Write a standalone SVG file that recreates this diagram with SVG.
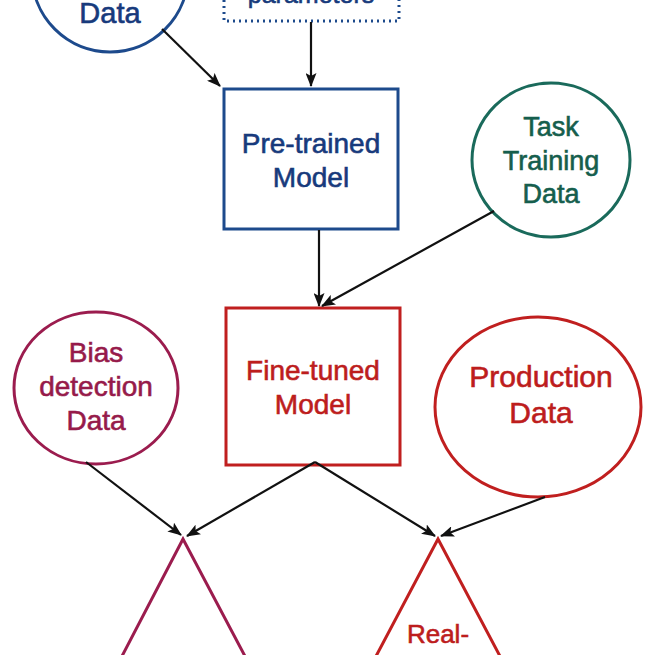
<svg xmlns="http://www.w3.org/2000/svg" width="655" height="655" viewBox="0 0 655 655">
<defs>
<marker id="ah" viewBox="0 0 14 11" refX="13" refY="5.5" markerWidth="14" markerHeight="11" markerUnits="userSpaceOnUse" orient="auto">
<path d="M0,0 L14,5.5 L0,11 L3,5.5 z" fill="#111"/>
</marker>
<style>
text{font-family:"Liberation Sans",Arial,sans-serif;text-anchor:middle;stroke-width:0.6}
.blue{stroke:#1d4a8c;fill:none;stroke-width:3}
.tblue{fill:#173a7c;stroke:#173a7c}
.teal{stroke:#1a6a5b;fill:none;stroke-width:3}
.tteal{fill:#155e4d;stroke:#155e4d}
.bias{stroke:#9b1c4e;fill:none;stroke-width:3}
.tbias{fill:#961a4a;stroke:#961a4a}
.red{stroke:#c01f1f;fill:none;stroke-width:3}
.tred{fill:#bd1d1d;stroke:#bd1d1d}
.conn line{stroke:#111;stroke-width:2.2;marker-end:url(#ah)}
</style>
</defs>
<rect width="655" height="655" fill="#fff"/>
<g id="pretrain-data">
<circle class="blue" cx="110" cy="-26" r="78"/>
<text class="tblue" x="110" y="23" font-size="29">Data</text>
</g>
<g id="parameters">
<rect x="224" y="-30" width="175" height="51" fill="none" stroke="#1d4a8c" stroke-width="3" stroke-dasharray="2 4"/>
<text class="tblue" x="311" y="3" font-size="25">parameters</text>
</g>
<g id="pretrained-model">
<rect class="blue" x="224" y="89" width="174" height="140"/>
<text class="tblue" x="311" y="153" font-size="28"><tspan x="311">Pre-trained</tspan><tspan x="311" dy="34">Model</tspan></text>
</g>
<g id="task-data">
<ellipse class="teal" cx="551" cy="160" rx="79" ry="77"/>
<text class="tteal" x="551" y="136" font-size="27"><tspan x="551">Task</tspan><tspan x="551" dy="34">Training</tspan><tspan x="551" dy="33">Data</tspan></text>
</g>
<g id="finetuned-model">
<rect class="red" x="226" y="308" width="174" height="157"/>
<text class="tred" x="313" y="380" font-size="28"><tspan x="313">Fine-tuned</tspan><tspan x="313" dy="34">Model</tspan></text>
</g>
<g id="bias-data">
<ellipse class="bias" cx="96" cy="388" rx="82" ry="76"/>
<text class="tbias" x="96" y="362" font-size="28"><tspan x="96">Bias</tspan><tspan x="96" dy="34">detection</tspan><tspan x="96" dy="34">Data</tspan></text>
</g>
<g id="production-data">
<ellipse class="red" cx="538" cy="407" rx="103" ry="90"/>
<text class="tred" x="541" y="387" font-size="30"><tspan x="541">Production</tspan><tspan x="541" dy="36">Data</tspan></text>
</g>
<g id="bias-eval">
<polyline class="bias" points="120,660 183,539 247,660"/>
</g>
<g id="realworld-eval">
<polyline class="red" points="374,660 438,539 502,660"/>
<text class="tred" x="438" y="643" font-size="26">Real-</text>
</g>
<g id="connectors" class="conn">
<line x1="162" y1="29" x2="220" y2="86"/>
<line x1="311" y1="22" x2="311" y2="86"/>
<line x1="319" y1="230" x2="319" y2="306"/>
<line x1="494" y1="211" x2="322" y2="306"/>
<line x1="86" y1="462" x2="181" y2="535"/>
<line x1="315" y1="462" x2="187" y2="536"/>
<line x1="315" y1="462" x2="435" y2="536"/>
<line x1="545" y1="497" x2="441" y2="536"/>
</g>
</svg>
